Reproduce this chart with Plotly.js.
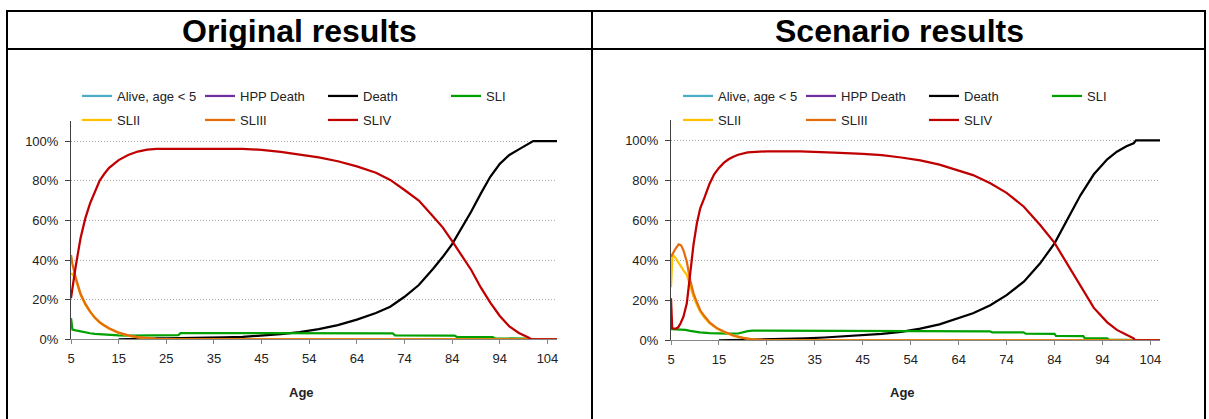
<!DOCTYPE html>
<html><head><meta charset="utf-8">
<script src="https://cdn.plot.ly/plotly-3.0.1.min.js"></script>
<style>html,body{margin:0;padding:0;background:#fff;}#chart{width:1209px;height:419px;}</style>
</head><body><div id="chart"></div>
<script>
// ---- text / categories ----
const panelTitles = ['Original results', 'Scenario results'];
const seriesNames = ['Alive, age < 5', 'HPP Death', 'Death', 'SLI', 'SLII', 'SLIII', 'SLIV'];
const seriesColors = ['#4BACC6', '#7030A0', '#000000', '#00A000', '#FFC000', '#E46C0A', '#C00000'];
const tickPositions = [0, 10, 20, 30, 40, 50, 60, 70, 80, 90, 100];   // category index of labelled ages
const ageLabels = ['5', '15', '25', '35', '45', '54', '64', '74', '84', '94', '104'];
const yTicks = [0, 0.2, 0.4, 0.6, 0.8, 1.0];
const axisTitle = 'Age';

// ---- Original results (x = category index, y = share; null = no value plotted) ----
const origAliveX = [0, 102], origAliveY = [null, null];
const origHppX = [0, 102], origHppY = [null, null];
const origDeathX = [10,12,14,16,18,20,24,28,32,36,40,44,48,52,56,60,64,67,70,73,76,78,80,82,84,86,88,90,92,94,95,96,96.5,97,100,102];
const origDeathY = [0,0.002,0.003,0.004,0.005,0.005,0.006,0.008,0.01,0.013,0.018,0.026,0.037,0.052,0.072,0.1,0.133,0.165,0.215,0.274,0.356,0.415,0.48,0.56,0.645,0.735,0.82,0.885,0.93,0.958,0.972,0.985,0.993,1,1,1];
const origSliX = [0,0.3,1,2,3,4,5,6,7,8,10,12,14,16,18,20,22.5,23,67.5,68,80.5,81,88.5,89,95.5,96.5,102];
const origSliY = [0.107,0.05,0.046,0.04,0.035,0.031,0.028,0.026,0.024,0.022,0.02,0.019,0.019,0.02,0.021,0.022,0.022,0.032,0.031,0.02,0.019,0.012,0.011,0.005,0.004,0,0];
const origSl2X = [0,0.3,1,2,3,4,5,6,7,8,10,12,14,16,18,20,22,102];
const origSl2Y = [0.33,0.33,0.30,0.225,0.175,0.138,0.108,0.085,0.068,0.054,0.033,0.019,0.01,0.005,0.002,0.001,0,0];
const origSl3X = [0,0.3,1,2,3,4,5,6,7,8,10,12,14,16,18,20,22,102];
const origSl3Y = [0.426,0.38,0.31,0.23,0.18,0.14,0.11,0.087,0.07,0.056,0.034,0.02,0.011,0.006,0.003,0.001,0,0];
const origSl4X = [0,0.3,1,2,3,4,5,6,7,8,10,12,14,16,18,20,36,40,44,48,52,56,60,64,67,70,73,76,78,80,82,84,86,88,90,92,94,95,96,96.5,97,102];
const origSl4Y = [0.208,0.26,0.37,0.51,0.61,0.686,0.745,0.80,0.835,0.865,0.904,0.93,0.947,0.957,0.96,0.961,0.961,0.955,0.945,0.933,0.918,0.898,0.872,0.84,0.804,0.753,0.70,0.62,0.565,0.495,0.425,0.35,0.262,0.185,0.118,0.065,0.032,0.022,0.01,0.002,0,0];

// ---- Scenario results ----
const scenAliveX = [0, 102], scenAliveY = [null, null];
const scenHppX = [0, 102], scenHppY = [null, null];
const scenDeathX = [10,12,16,20,24,28,32,36,40,44,48,52,56,60,63,66.6,70,73.6,77,80,82.6,85.4,88.2,91,93,95,96.5,97,102];
const scenDeathY = [0,0.001,0.002,0.004,0.006,0.01,0.014,0.019,0.025,0.032,0.042,0.058,0.08,0.11,0.135,0.175,0.226,0.293,0.385,0.485,0.602,0.725,0.83,0.905,0.943,0.97,0.985,1,1];
const scenSliX = [0,2,3,4,5,6,8,10,12,14,15,16,17,56,56.5,66.5,67,73.5,74,80,80.3,86,86.3,91,91.3,96,96.5,102];
const scenSliY = [0.056,0.055,0.052,0.047,0.043,0.04,0.036,0.034,0.033,0.034,0.04,0.046,0.048,0.048,0.045,0.045,0.04,0.04,0.033,0.032,0.022,0.021,0.011,0.01,0.004,0.003,0,0];
const scenSl2X = [0,0.3,1,2,2.6,3.3,4,4.7,5.4,6.1,7,8.1,9.5,10.9,13.1,15,16.6,19,102];
const scenSl2Y = [0.265,0.43,0.41,0.37,0.35,0.327,0.27,0.218,0.178,0.143,0.112,0.085,0.06,0.043,0.022,0.011,0.005,0,0];
const scenSl3X = [0,0.5,1,1.6,2.1,2.6,3.3,4,4.7,5.4,6.1,7,8.1,9.5,10.9,13,15,17,19,21,102];
const scenSl3Y = [0.418,0.44,0.46,0.48,0.475,0.45,0.393,0.30,0.235,0.19,0.15,0.12,0.088,0.062,0.045,0.024,0.012,0.005,0.002,0,0];
const scenSl4X = [0,0.25,1,1.5,2,2.6,3.3,4,4.7,5.4,6.1,7,8,9,10,11,12,13,14,16,18,20,27,30,34,40,44,48,52,56,60,63,66.6,70,73.6,77,80,82.6,85.4,88.2,91,93,95,96.5,96.8,102];
const scenSl4Y = [0.21,0.06,0.058,0.065,0.085,0.118,0.185,0.33,0.48,0.585,0.66,0.715,0.78,0.83,0.862,0.887,0.905,0.918,0.928,0.94,0.944,0.945,0.945,0.941,0.938,0.932,0.926,0.914,0.9,0.878,0.85,0.826,0.785,0.737,0.668,0.576,0.487,0.385,0.268,0.162,0.09,0.052,0.028,0.01,0,0];

// ---- build ----
const W = 1209, H = 419;
const px = v => v / W;
const py = v => 1 - v / H;

const panels = [
  {xs: [origAliveX, origHppX, origDeathX, origSliX, origSl2X, origSl3X, origSl4X],
   ys: [origAliveY, origHppY, origDeathY, origSliY, origSl2Y, origSl3Y, origSl4Y],
   xa: 'x', ya: 'y', legA: 'legend', legB: 'legend2'},
  {xs: [scenAliveX, scenHppX, scenDeathX, scenSliX, scenSl2X, scenSl3X, scenSl4X],
   ys: [scenAliveY, scenHppY, scenDeathY, scenSliY, scenSl2Y, scenSl3Y, scenSl4Y],
   xa: 'x2', ya: 'y2', legA: 'legend3', legB: 'legend4'}
];

const traces = [];
panels.forEach(p => {
  seriesNames.forEach((name, k) => {
    traces.push({
      type: 'scatter', mode: 'lines', name: name,
      x: p.xs[k], y: p.ys[k], xaxis: p.xa, yaxis: p.ya,
      line: {color: seriesColors[k], width: 2.25},
      legend: k < 4 ? p.legA : p.legB, showlegend: true,
      hoverinfo: 'skip'
    });
  });
});

const font = {family: 'Liberation Sans, Arial, sans-serif', size: 13, color: '#222'};

function xAxis(d0, d1, anchor) {
  return {domain: [px(d0), px(d1)], range: [0, 102], anchor: anchor,
    tickmode: 'array', tickvals: tickPositions, ticktext: ageLabels,
    showgrid: false, zeroline: false, showline: true, linecolor: '#868686', linewidth: 1,
    ticks: 'outside', ticklen: 4, tickcolor: '#868686', ticklabelstandoff: 3,
    tickfont: font, fixedrange: true};
}
function yAxis(bottom, top, anchor) {
  return {domain: [py(bottom), py(top)], range: [0, 1.1], anchor: anchor,
    tickmode: 'array', tickvals: yTicks, tickformat: '.0%',
    showgrid: true, gridcolor: '#a8a8a8', griddash: '1px,2px', gridwidth: 1,
    zeroline: false, showline: true, linecolor: '#404040', linewidth: 1,
    ticks: 'outside', ticklen: 5, tickcolor: '#404040', ticklabelstandoff: 4,
    tickfont: font, fixedrange: true};
}
function legendAt(x, y) {
  return {x: px(x), y: py(y), xanchor: 'left', yanchor: 'top', orientation: 'h',
    entrywidth: 78, entrywidthmode: 'pixels', bgcolor: 'rgba(0,0,0,0)',
    borderwidth: 0, font: font, traceorder: 'normal'};
}

const line = (x0, y0, x1, y1) => ({type: 'line', xref: 'paper', yref: 'paper',
  x0: px(x0), y0: py(y0), x1: px(x1), y1: py(y1), line: {color: '#000', width: 2}, layer: 'above'});

const layout = {
  width: W, height: H, margin: {l: 0, r: 0, t: 0, b: 0},
  paper_bgcolor: '#fff', plot_bgcolor: '#fff', font: font, showlegend: true,
  xaxis: xAxis(71, 557, 'y'), yaxis: yAxis(339.4, 121.2, 'x'),
  xaxis2: xAxis(671, 1160, 'y2'), yaxis2: yAxis(340.3, 120.3, 'x2'),
  legend: legendAt(77, 81), legend2: legendAt(77, 105),
  legend3: legendAt(678, 81), legend4: legendAt(678, 105),
  shapes: [
    line(6, 11, 1206, 11), line(6, 49, 1206, 49),
    line(7, 10, 7, 425), line(592, 10, 592, 425), line(1205, 10, 1205, 425)
  ],
  annotations: [
    {text: panelTitles[0], x: px(299.5), y: py(31), xref: 'paper', yref: 'paper', showarrow: false,
     xanchor: 'center', yanchor: 'middle', font: {family: 'Liberation Sans, Arial, sans-serif', size: 32, color: '#000', weight: 'bold'}},
    {text: panelTitles[1], x: px(899), y: py(31), xref: 'paper', yref: 'paper', showarrow: false,
     xanchor: 'center', yanchor: 'middle', font: {family: 'Liberation Sans, Arial, sans-serif', size: 32, color: '#000', weight: 'bold'}},
    {text: axisTitle, x: px(301), y: py(392), xref: 'paper', yref: 'paper', showarrow: false,
     xanchor: 'center', yanchor: 'middle', font: {family: 'Liberation Sans, Arial, sans-serif', size: 13, color: '#222', weight: 'bold'}},
    {text: axisTitle, x: px(902), y: py(392), xref: 'paper', yref: 'paper', showarrow: false,
     xanchor: 'center', yanchor: 'middle', font: {family: 'Liberation Sans, Arial, sans-serif', size: 13, color: '#222', weight: 'bold'}}
  ]
};

Plotly.newPlot('chart', traces, layout, {staticPlot: true, displayModeBar: false});
</script>
</body></html>
